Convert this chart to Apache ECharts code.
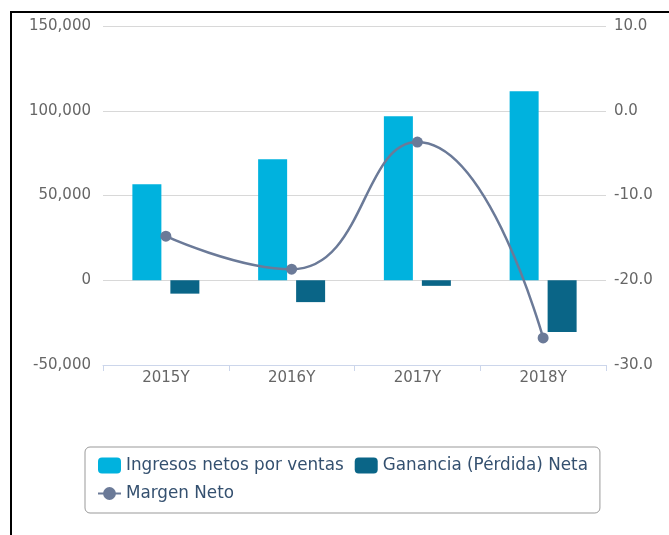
<!DOCTYPE html>
<html>
<head>
<meta charset="utf-8">
<script src="https://cdn.jsdelivr.net/npm/echarts@6/dist/echarts.min.js"></script>
<style>
  html, body { margin: 0; padding: 0; background: #fff; }
  #main { width: 669px; height: 535px; }
</style>
</head>
<body>
<div id="main"></div>
<script>
const categories = ['2015Y', '2016Y', '2017Y', '2018Y']
const ingresos = [56600, 71400, 96800, 111500]
const ganancia = [-7900, -12900, -3300, -30500]
const margen = [-14.8, -18.7, -3.7, -26.8]
const seriesNames = ['Ingresos netos por ventas', 'Ganancia (Pérdida) Neta', 'Margen Neto']

const font = 'DejaVu Sans'
const colors = ['#00b2de', '#0a6587', '#6b7a98']

let chart = echarts.init(document.getElementById('main'))

const option = {
  animation: false,
  color: colors,
  graphic: [{
    type: 'polyline',
    shape: { points: [[11, 535], [11, 12], [669, 12]] },
    style: { stroke: '#000', lineWidth: 2, fill: null }
  }],
  legend: {
    left: 85,
    top: 447,
    width: 510,
    padding: [10, 12, 11, 12],
    itemGap: 11,
    itemWidth: 23,
    itemHeight: 16,
    borderColor: '#999',
    borderWidth: 1,
    borderRadius: 5,
    backgroundColor: '#fff',
    textStyle: {
      fontFamily: font,
      fontSize: 16.8,
      color: '#34506f'
    },
    data: seriesNames
  },
  grid: {
    left: 103,
    right: 63,
    top: 26,
    bottom: 170
  },
  xAxis: [{
    type: 'category',
    data: categories,
    axisLine: { onZero: false, lineStyle: { color: '#ccd6eb', width: 1 } },
    axisTick: { show: true, length: 6, lineStyle: { color: '#ccd6eb' } },
    axisLabel: { margin: 6, color: '#666', fontFamily: font, fontSize: 15 }
  }],
  yAxis: [{
    type: 'value',
    min: -50000,
    max: 150000,
    interval: 50000,
    axisLine: { show: false },
    axisTick: { show: false },
    axisLabel: {
      margin: 12,
      color: '#666',
      fontFamily: font,
      fontSize: 15,
      formatter: function(v) {
        return v.toLocaleString('en-US')
      }
    },
    splitLine: { lineStyle: { color: '#d8d8d8', width: 1 } }
  }, {
    type: 'value',
    min: -30,
    max: 10,
    interval: 10,
    axisLine: { show: false },
    axisTick: { show: false },
    axisLabel: {
      margin: 8,
      color: '#666',
      fontFamily: font,
      fontSize: 15,
      formatter: function(v) {
        return v.toFixed(1)
      }
    },
    splitLine: { show: false }
  }],
  series: [{
    name: seriesNames[0],
    type: 'bar',
    data: ingresos,
    barWidth: 29,
    barGap: '31%',
    yAxisIndex: 0
  }, {
    name: seriesNames[1],
    type: 'bar',
    data: ganancia,
    barWidth: 29,
    yAxisIndex: 0
  }, {
    name: seriesNames[2],
    type: 'line',
    data: margen,
    yAxisIndex: 1,
    smooth: 0.5,
    symbol: 'circle',
    symbolSize: 11,
    lineStyle: { width: 2.5 },
    z: 5
  }]
}

chart.setOption(option)
window.addEventListener('resize', function() {
  chart.resize()
})
</script>
</body>
</html>
